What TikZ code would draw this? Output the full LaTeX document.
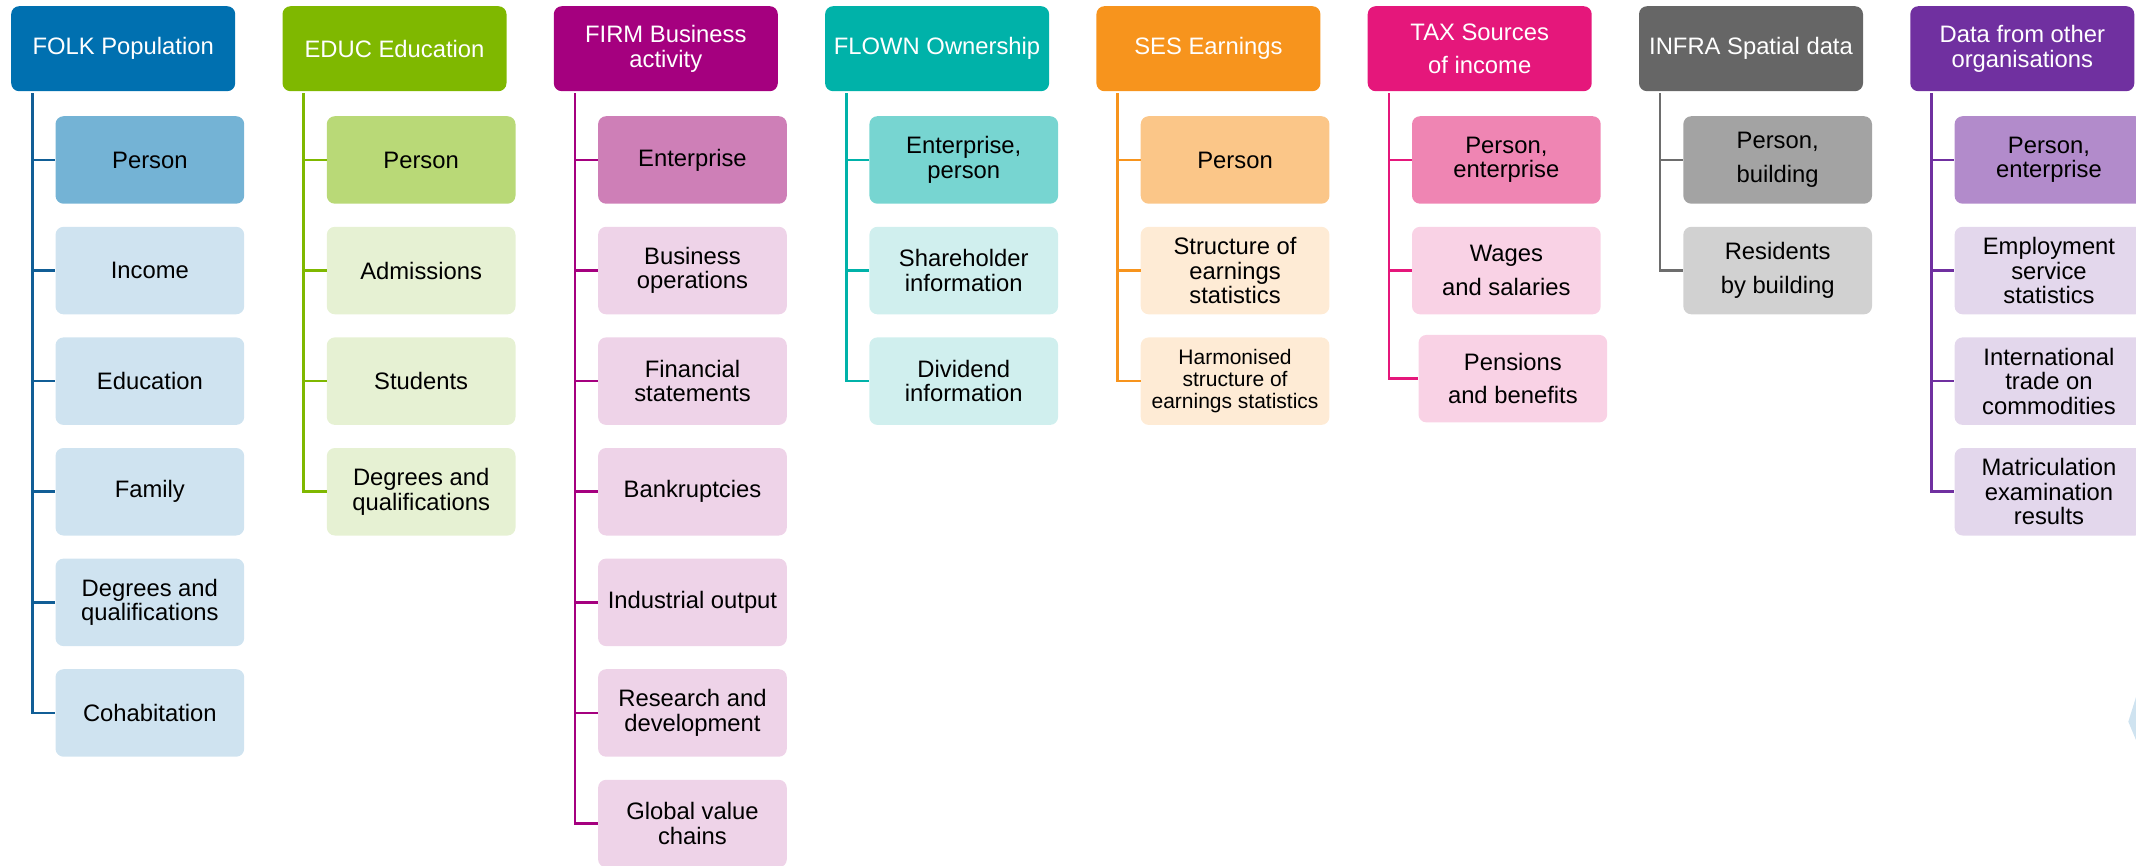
\documentclass[tikz,border=0pt]{standalone}
\usepackage{fontspec}
\setmainfont{Liberation Sans}
\newcommand{\fsA}{\fontsize{23.8}{24.5}\selectfont}
\newcommand{\fsW}{\fontsize{23.8}{33.5}\selectfont}
\newcommand{\fsS}{\fontsize{21}{21.7}\selectfont}
% colours
\definecolor{hFOLK}{HTML}{0070B0}\definecolor{dFOLK}{HTML}{74B3D5}\definecolor{lFOLK}{HTML}{CFE3F0}\definecolor{nFOLK}{HTML}{115E96}
\definecolor{hEDUC}{HTML}{7FB800}\definecolor{dEDUC}{HTML}{B9D977}\definecolor{lEDUC}{HTML}{E6F1D3}\definecolor{nEDUC}{HTML}{7FB800}
\definecolor{hFIRM}{HTML}{A5007F}\definecolor{dFIRM}{HTML}{CE7FB7}\definecolor{lFIRM}{HTML}{EED3E8}\definecolor{nFIRM}{HTML}{A5007F}
\definecolor{hFLOWN}{HTML}{00B2A9}\definecolor{dFLOWN}{HTML}{77D5D1}\definecolor{lFLOWN}{HTML}{D0EFEE}\definecolor{nFLOWN}{HTML}{00B2A9}
\definecolor{hSES}{HTML}{F7941D}\definecolor{dSES}{HTML}{FBC688}\definecolor{lSES}{HTML}{FEEBD5}\definecolor{nSES}{HTML}{F7941D}
\definecolor{hTAX}{HTML}{E5177B}\definecolor{dTAX}{HTML}{EF85B3}\definecolor{lTAX}{HTML}{F9D2E5}\definecolor{nTAX}{HTML}{E5177B}
\definecolor{hINFRA}{HTML}{666666}\definecolor{dINFRA}{HTML}{A3A3A3}\definecolor{lINFRA}{HTML}{D1D1D1}\definecolor{nINFRA}{HTML}{6D6D6D}
\definecolor{hDATA}{HTML}{7030A0}\definecolor{dDATA}{HTML}{B28BCB}\definecolor{lDATA}{HTML}{E3D7EC}\definecolor{nDATA}{HTML}{7030A0}
\tikzset{
  hdr/.style={rounded corners=8pt, minimum width=224pt, minimum height=85pt, inner sep=0pt,
    align=center, text=white, font=\fsA, anchor=north west},
  sub/.style={rounded corners=8pt, minimum width=188.7pt, minimum height=87.5pt, inner sep=0pt,
    align=center, text=black, font=\fsA, anchor=north west},
  conn/.style={line width=2.6pt},
}
\begin{document}
\begin{tikzpicture}[x=1pt,y=-1pt]
\useasboundingbox (0,0) rectangle (2136,865);
\clip (0,0) rectangle (2136,865);
% ---------- FOLK
\node[hdr,fill=hFOLK] (h1) at (11,6) {FOLK Population};
\node[sub,fill=dFOLK] (c1a) at (55.3,116) {Person};
\node[sub,fill=lFOLK] (c1b) at (55.3,226.6) {Income};
\node[sub,fill=lFOLK] (c1c) at (55.3,337.2) {Education};
\node[sub,fill=lFOLK] (c1d) at (55.3,447.8) {Family};
\node[sub,fill=lFOLK] (c1e) at (55.3,558.4) {Degrees and\\qualifications};
\node[sub,fill=lFOLK] (c1f) at (55.3,669) {Cohabitation};
\foreach \c in {c1a,c1b,c1c,c1d,c1e,c1f}
  \draw[conn,nFOLK] ([xshift=21.3pt,yshift=-2pt]h1.south west) |- (\c.west);
% ---------- EDUC
\node[hdr,fill=hEDUC] (h2) at (282.3,6) {EDUC Education};
\node[sub,fill=dEDUC] (c2a) at (326.6,116) {Person};
\node[sub,fill=lEDUC] (c2b) at (326.6,226.6) {Admissions};
\node[sub,fill=lEDUC] (c2c) at (326.6,337.2) {Students};
\node[sub,fill=lEDUC] (c2d) at (326.6,447.8) {Degrees and\\qualifications};
\foreach \c in {c2a,c2b,c2c,c2d}
  \draw[conn,nEDUC] ([xshift=21.3pt,yshift=-2pt]h2.south west) |- (\c.west);
% ---------- FIRM
\node[hdr,fill=hFIRM] (h3) at (553.6,6) {FIRM Business\\activity};
\node[sub,fill=dFIRM] (c3a) at (597.9,116) {Enterprise};
\node[sub,fill=lFIRM] (c3b) at (597.9,226.6) {Business\\operations};
\node[sub,fill=lFIRM] (c3c) at (597.9,337.2) {Financial\\statements};
\node[sub,fill=lFIRM] (c3d) at (597.9,447.8) {Bankruptcies};
\node[sub,fill=lFIRM] (c3e) at (597.9,558.4) {Industrial output};
\node[sub,fill=lFIRM] (c3f) at (597.9,669) {Research and\\development};
\node[sub,fill=lFIRM] (c3g) at (597.9,779.6) {Global value\\chains};
\foreach \c in {c3a,c3b,c3c,c3d,c3e,c3f,c3g}
  \draw[conn,nFIRM] ([xshift=21.3pt,yshift=-2pt]h3.south west) |- (\c.west);
% ---------- FLOWN
\node[hdr,fill=hFLOWN] (h4) at (824.9,6) {FLOWN Ownership};
\node[sub,fill=dFLOWN] (c4a) at (869.2,116) {Enterprise,\\person};
\node[sub,fill=lFLOWN] (c4b) at (869.2,226.6) {Shareholder\\information};
\node[sub,fill=lFLOWN] (c4c) at (869.2,337.2) {Dividend\\information};
\foreach \c in {c4a,c4b,c4c}
  \draw[conn,nFLOWN] ([xshift=21.3pt,yshift=-2pt]h4.south west) |- (\c.west);
% ---------- SES
\node[hdr,fill=hSES] (h5) at (1096.2,6) {SES Earnings};
\node[sub,fill=dSES] (c5a) at (1140.5,116) {Person};
\node[sub,fill=lSES] (c5b) at (1140.5,226.6) {Structure of\\earnings\\statistics};
\node[sub,fill=lSES,font=\fsS] (c5c) at (1140.5,337.2) {Harmonised\\structure of\\earnings statistics};
\foreach \c in {c5a,c5b,c5c}
  \draw[conn,nSES] ([xshift=21.3pt,yshift=-2pt]h5.south west) |- (\c.west);
% ---------- TAX
\node[hdr,fill=hTAX,font=\fsW] (h6) at (1367.5,6) {TAX Sources\\of income};
\node[sub,fill=dTAX] (c6a) at (1411.8,116) {Person,\\enterprise};
\node[sub,fill=lTAX,font=\fsW] (c6b) at (1411.8,226.6) {Wages\\and salaries};
\node[sub,fill=lTAX,font=\fsW] (c6c) at (1418.3,334.7) {Pensions\\and benefits};
\foreach \c in {c6a,c6b,c6c}
  \draw[conn,nTAX] ([xshift=21.3pt,yshift=-2pt]h6.south west) |- (\c.west);
% ---------- INFRA
\node[hdr,fill=hINFRA] (h7) at (1638.8,6) {INFRA Spatial data};
\node[sub,fill=dINFRA,font=\fsW] (c7a) at (1683.1,116) {Person,\\building};
\node[sub,fill=lINFRA,font=\fsW] (c7b) at (1683.1,226.6) {Residents\\by building};
\foreach \c in {c7a,c7b}
  \draw[conn,nINFRA] ([xshift=21.3pt,yshift=-2pt]h7.south west) |- (\c.west);
% ---------- DATA
\node[hdr,fill=hDATA] (h8) at (1910.1,6) {Data from other\\organisations};
\node[sub,fill=dDATA] (c8a) at (1954.4,116) {Person,\\enterprise};
\node[sub,fill=lDATA] (c8b) at (1954.4,226.6) {Employment\\service\\statistics};
\node[sub,fill=lDATA] (c8c) at (1954.4,337.2) {International\\trade on\\commodities};
\node[sub,fill=lDATA] (c8d) at (1954.4,447.8) {Matriculation\\examination\\results};
\foreach \c in {c8a,c8b,c8c,c8d}
  \draw[conn,nDATA] ([xshift=21.3pt,yshift=-2pt]h8.south west) |- (\c.west);
% ---------- sliver at right edge
\fill[lFOLK] (2136,697) -- (2128.3,721.7) -- (2136,740) -- cycle;
\end{tikzpicture}
\end{document}
